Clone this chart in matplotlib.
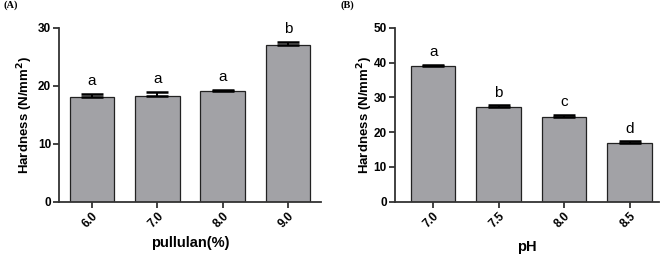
import matplotlib
matplotlib.use("Agg")
import matplotlib.pyplot as plt

plt.rcParams["font.family"] = ["Liberation Sans", "DejaVu Sans"]

# panel A: pullulan concentration
pullulan_labels = ["6.0", "7.0", "8.0", "9.0"]
pullulan_hardness = [18.0, 18.2, 19.1, 27.0]
pullulan_err = [0.6, 0.8, 0.2, 0.6]
pullulan_letters = ["a", "a", "a", "b"]

# panel B: pH
ph_labels = ["7.0", "7.5", "8.0", "8.5"]
ph_hardness = [39.0, 27.1, 24.4, 17.0]
ph_err = [0.4, 0.6, 0.6, 0.4]
ph_letters = ["a", "b", "c", "d"]

BAR_COLOR = "#a2a2a6"
AX_COLOR = "#333333"


def draw_panel(ax, labels, values, errs, letters, ymax, xlabel, xlim, ylab_x, xlab_y):
    xs = list(range(len(labels)))
    ax.bar(xs, values, width=0.68, color=BAR_COLOR, edgecolor="#222222", linewidth=0.9, zorder=2)
    ax.errorbar(xs, values, yerr=[[0] * len(errs), errs], fmt="none", ecolor="black",
                elinewidth=1.4, capsize=7.8, capthick=1.8, zorder=3)
    for x, v, e, t in zip(xs, values, errs, letters):
        ax.annotate(t, (x, v + e), xytext=(0, 4), textcoords="offset points",
                    ha="center", va="bottom", fontsize=11, color="black")
    ax.set_xlim(*xlim)
    ax.set_ylim(0, ymax)
    ax.set_yticks(range(0, ymax + 1, 10))
    ax.set_xticks(xs)
    ax.set_xticklabels(labels, rotation=45, ha="right", rotation_mode="anchor",
                       fontsize=8.5, fontweight="bold")
    for lab in ax.get_yticklabels():
        lab.set_fontweight("bold")
        lab.set_fontsize(8.5)
    ax.set_ylabel("Hardness (N/mm$^\\mathbf{2}$)", fontsize=9.5, fontweight="bold")
    ax.yaxis.set_label_coords(ylab_x, 0.5)
    ax.set_xlabel(xlabel, fontsize=10.5, fontweight="bold")
    ax.xaxis.set_label_coords(0.5, xlab_y)
    for s in ("top", "right"):
        ax.spines[s].set_visible(False)
    for s in ("left", "bottom"):
        ax.spines[s].set_linewidth(1.3)
        ax.spines[s].set_color(AX_COLOR)
    ax.tick_params(axis="both", width=1.3, length=4, color=AX_COLOR, pad=2)


fig = plt.figure(figsize=(6.72, 2.65), dpi=100)
ax1 = fig.add_axes([0.0883, 0.239, 0.389, 0.656])
ax2 = fig.add_axes([0.588, 0.239, 0.392, 0.656])

draw_panel(ax1, pullulan_labels, pullulan_hardness, pullulan_err, pullulan_letters,
           30, "pullulan(%)", (-0.5, 3.5), -0.095, -0.2)
draw_panel(ax2, ph_labels, ph_hardness, ph_err, ph_letters,
           50, "pH", (-0.58, 3.44), -0.077, -0.22)

fig.text(11 / 672, 1 - 5 / 265, "(A)", family="Liberation Serif", fontweight="bold",
         fontsize=7.5, va="center", ha="center")
fig.text(347 / 672, 1 - 5 / 265, "(B)", family="Liberation Serif", fontweight="bold",
         fontsize=7.5, va="center", ha="center")

fig.savefig("out.png", dpi=100)
